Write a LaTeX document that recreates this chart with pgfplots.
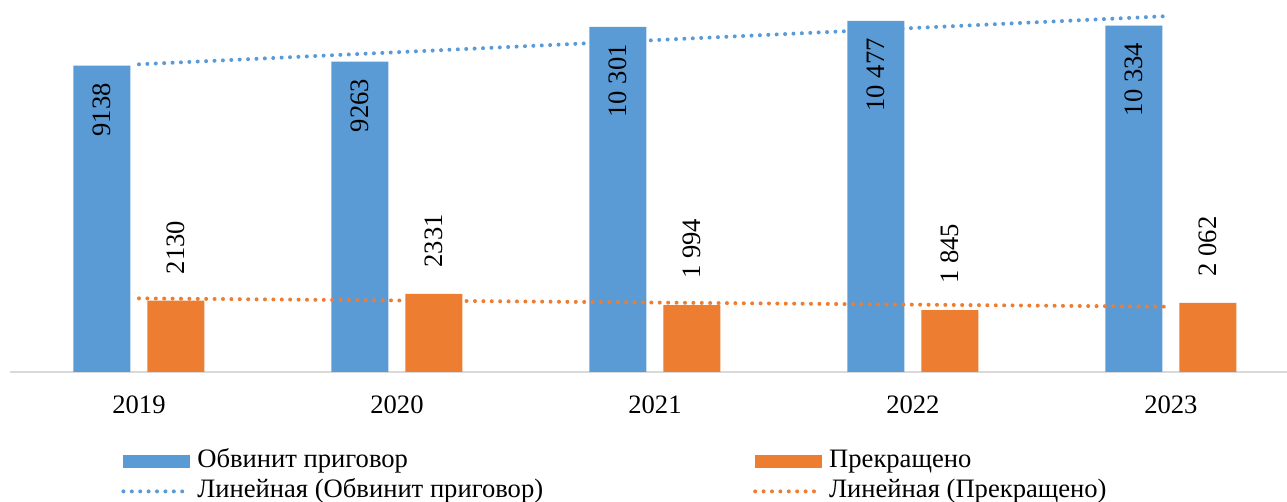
\documentclass[border=0pt]{standalone}
\usepackage{pgfplots}
\pgfplotsset{compat=1.18}
\usepackage{fontspec}
\setmainfont{Liberation Serif}
\definecolor{cblue}{HTML}{5B9BD5}
\definecolor{corange}{HTML}{ED7D31}
\definecolor{cgrid}{HTML}{D9D9D9}
\begin{document}
\fontsize{13.3}{15}\selectfont
\begin{tikzpicture}
\begin{axis}[
  name=ax,
  scale only axis,
  width=638.5pt, height=186pt,
  xmin=-0.5, xmax=4.45,
  ymin=0, ymax=11100,
  axis y line=none,
  axis x line*=bottom,
  x axis line style={cgrid, line width=1pt},
  xtick={0,1,2,3,4},
  xticklabels={2019,2020,2021,2022,2023},
  major tick length=0pt,
  xticklabel style={font=\fontsize{13.3}{15}\selectfont, yshift=-7.3pt},
  clip=false,
  legend columns=2,
  legend style={draw=none, fill=none, inner sep=0pt,
    at={(rel axis cs:0.0885,0)}, anchor=north west, yshift=-37pt, xshift=-1pt,
    font=\fontsize{13.3}{15}\selectfont,
    cells={anchor=west},
    nodes={inner xsep=0pt, inner ysep=1.5pt, text height=9pt, text depth=3pt},
    /tikz/every odd column/.append style={column sep=2.5pt},
    /tikz/every even column/.append style={column sep=105pt}},
]
\addplot[ybar, bar width=28.5pt, bar shift=-18.5pt, fill=cblue, draw=none,
  point meta=explicit symbolic,
  nodes near coords,
  every node near coord/.style={xshift=-18.5pt, rotate=90, anchor=east, inner xsep=8.5pt, inner ysep=0pt, text=black, font=\fontsize{13.3}{15}\selectfont},
  legend image code/.code={\fill[cblue] (0pt,-3.25pt) rectangle (33.5pt,3.25pt);}]
  coordinates {(0,9138) [9138] (1,9263) [9263] (2,10301) [10 301] (3,10477) [10 477] (4,10334) [10 334]};
\addlegendentry{Обвинит приговор}
\addplot[ybar, bar width=28.5pt, bar shift=18.5pt, fill=corange, draw=none,
  point meta=explicit symbolic,
  nodes near coords,
  every node near coord/.style={xshift=18.5pt, rotate=90, anchor=west, inner xsep=13pt, inner ysep=0pt, text=black, font=\fontsize{13.3}{15}\selectfont},
  legend image code/.code={\fill[corange] (0pt,-3.25pt) rectangle (33.5pt,3.25pt);}]
  coordinates {(0,2130) [2130] (1,2331) [2331] (2,1994) [1 994] (3,1845) [1 845] (4,2062) [2 062]};
\addlegendentry{Прекращено}
\addplot[cblue, line width=2pt, line cap=round, dash pattern=on 0pt off 4.2pt,
  legend image code/.code={\draw[cblue, line width=2pt, line cap=round, dash pattern=on 0pt off 4.2pt] (0pt,0pt) -- (33.5pt,0pt);}]
  coordinates {(0,9181.4) (4,10623.8)};
\addlegendentry{Линейная (Обвинит приговор)}
\addplot[corange, line width=2pt, line cap=round, dash pattern=on 0pt off 4.2pt,
  legend image code/.code={\draw[corange, line width=2pt, line cap=round, dash pattern=on 0pt off 4.2pt] (0pt,0pt) -- (33.5pt,0pt);}]
  coordinates {(0,2196.8) (4,1948.0)};
\addlegendentry{Линейная (Прекращено)}
\coordinate (bl) at (rel axis cs:0,0);
\coordinate (tr) at (rel axis cs:1,1);
\end{axis}
\pgfresetboundingbox
\path ([xshift=-5pt,yshift=-65pt]bl) rectangle (tr);
\end{tikzpicture}
\end{document}
